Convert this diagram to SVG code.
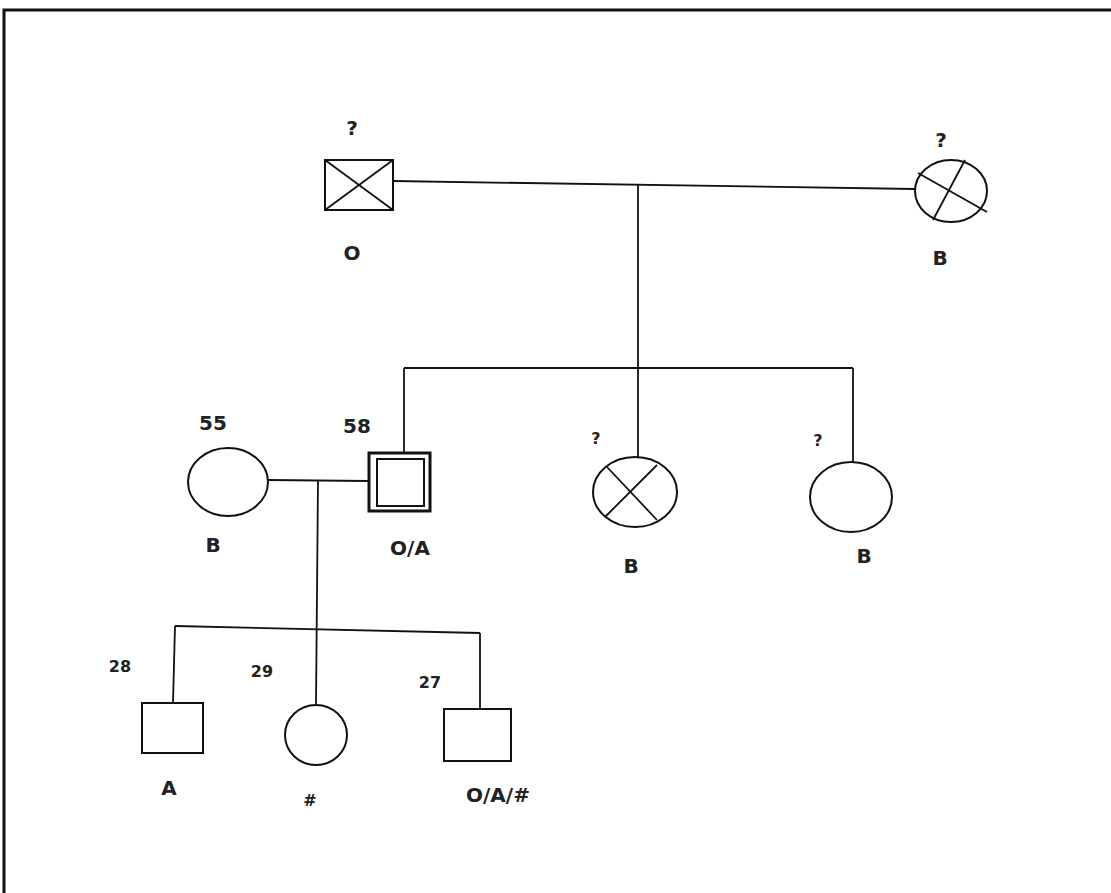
<svg xmlns="http://www.w3.org/2000/svg" width="1111" height="893" viewBox="0 0 1111 893">
<style>
.s{fill:none;stroke:#111;stroke-width:2}
.c{fill:none;stroke:#111;stroke-width:1.8}
.t{font-family:"DejaVu Sans",Verdana,sans-serif;font-size:20px;font-weight:bold;fill:#222;text-anchor:middle}
.n{font-family:"DejaVu Sans",Verdana,sans-serif;font-size:16px;font-weight:bold;fill:#222;text-anchor:middle}
</style>
<rect x="0" y="0" width="1111" height="893" fill="#fff"/>
<path d="M4,893 V10 H1111" fill="none" stroke="#111" stroke-width="3"/>
<g id="connectors" class="c">
<line x1="393" y1="181" x2="915" y2="189"/>
<line x1="638" y1="184" x2="638" y2="368"/>
<line x1="404" y1="368" x2="853" y2="368"/>
<line x1="404" y1="368" x2="404" y2="452"/>
<line x1="638" y1="368" x2="638" y2="457"/>
<line x1="853" y1="368" x2="853" y2="463"/>
<line x1="268" y1="480" x2="368" y2="481"/>
<line x1="318" y1="481" x2="316" y2="705"/>
<line x1="175" y1="626" x2="480" y2="633"/>
<line x1="175" y1="626" x2="173" y2="703"/>
<line x1="480" y1="633" x2="480" y2="709"/>
</g>
<g id="gf">
<rect x="325" y="160" width="68" height="50" class="s"/>
<line x1="325" y1="160" x2="393" y2="210" class="c"/>
<line x1="393" y1="160" x2="325" y2="210" class="c"/>
<text x="352" y="135" class="t">?</text>
<text x="352" y="260" class="t">O</text>
</g>
<g id="gm">
<ellipse cx="951" cy="191" rx="36" ry="31" class="s"/>
<line x1="918" y1="173" x2="987" y2="212" class="c"/>
<line x1="965" y1="160" x2="933" y2="220" class="c"/>
<text x="941" y="147" class="t">?</text>
<text x="940" y="265" class="t">B</text>
</g>
<g id="mother">
<ellipse cx="228" cy="482" rx="40" ry="34" class="s"/>
<text x="213" y="430" class="t">55</text>
<text x="213" y="552" class="t">B</text>
</g>
<g id="father">
<rect x="369" y="453" width="61" height="58" fill="none" stroke="#111" stroke-width="3"/>
<rect x="377" y="459" width="47" height="47" class="s"/>
<text x="357" y="433" class="t">58</text>
<text x="410" y="555" class="t">O/A</text>
</g>
<g id="aunt1">
<ellipse cx="635" cy="492" rx="42" ry="35" class="s"/>
<line x1="607" y1="467" x2="657" y2="520" class="c"/>
<line x1="657" y1="465" x2="605" y2="517" class="c"/>
<text x="596" y="444" class="n">?</text>
<text x="631" y="573" class="t">B</text>
</g>
<g id="aunt2">
<ellipse cx="851" cy="497" rx="41" ry="35" class="s"/>
<text x="818" y="446" class="n">?</text>
<text x="864" y="563" class="t">B</text>
</g>
<g id="child28">
<rect x="142" y="703" width="61" height="50" class="s"/>
<text x="120" y="672" class="n">28</text>
<text x="169" y="795" class="t">A</text>
</g>
<g id="child29">
<ellipse cx="316" cy="735" rx="31" ry="30" class="s"/>
<text x="262" y="677" class="n">29</text>
<text x="310" y="806" class="n">#</text>
</g>
<g id="child27">
<rect x="444" y="709" width="67" height="52" class="s"/>
<text x="430" y="688" class="n">27</text>
<text x="498" y="802" class="t">O/A/#</text>
</g>
</svg>
